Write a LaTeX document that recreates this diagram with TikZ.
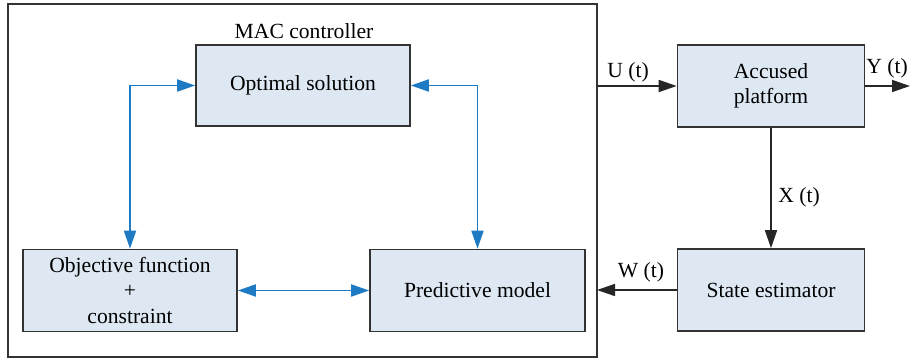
\documentclass[tikz,border=0pt]{standalone}
\usepackage{fontspec}
\setmainfont{Liberation Serif}
\usetikzlibrary{arrows.meta}
\definecolor{boxfill}{HTML}{DDE8F3}
\definecolor{boxdraw}{HTML}{333333}
\definecolor{linkblue}{HTML}{1F7AC4}
\tikzset{
  blockbox/.style={draw=boxdraw, fill=boxfill, line width=0.8pt, inner sep=0pt,
    align=center, font=\fontsize{10.8}{12.6}\selectfont},
  sig/.style={draw=black!85, line width=0.8pt, -{Triangle[length=9pt,width=6pt]}},
  blink/.style={draw=linkblue, line width=0.9pt,
    {Triangle[length=9pt,width=6pt]}-{Triangle[length=9pt,width=6pt]}},
  lbl/.style={font=\fontsize{10.8}{13}\selectfont, inner sep=1pt}
}
\begin{document}
\begin{tikzpicture}[x=0.5pt,y=-0.5pt]
\useasboundingbox (0,0) rectangle (910,362);
% outer controller box
\node[draw=boxdraw, line width=0.8pt, minimum width=294.5pt, minimum height=176.5pt, inner sep=0pt] (mac) at (302.5,180.5) {};
\node[lbl] (mactitle) at (304,31) {MAC controller};
% blocks
\node[blockbox, minimum width=107pt, minimum height=40.5pt] (opt) at (303,85.5) {Optimal solution};
\node[blockbox, minimum width=107pt, minimum height=41pt] (obj) at (130,290.5) {Objective function\\+\\constraint};
\node[blockbox, minimum width=107.5pt, minimum height=41pt] (pred) at (477.5,290.5) {Predictive model};
\node[blockbox, minimum width=93.5pt, minimum height=41pt] (plant) at (771,86) {Accused\\platform};
\node[blockbox, minimum width=93.5pt, minimum height=41pt] (est) at (771,290) {State estimator};
% coordinates
\coordinate (uin) at (597,86);
\coordinate (wout) at (597,290);
\coordinate (yout) at (910,86);
% blue links
\draw[blink] (obj.north) |- (opt.west);
\draw[blink] (pred.north) |- (opt.east);
\draw[blink] (obj.east) -- (pred.west);
% black signals
\draw[sig] (uin) -- (plant.west);
\draw[sig] (plant.east) -- (yout);
\draw[sig] (plant.south) -- (est.north);
\draw[sig] (est.west) -- (wout);
% labels
\node[lbl] (ulbl) at (628,72) {U (t)};
\node[lbl] (ylbl) at (887,68) {Y (t)};
\node[lbl] (xlbl) at (799,197) {X (t)};
\node[lbl] (wlbl) at (641,272) {W (t)};
\end{tikzpicture}
\end{document}
